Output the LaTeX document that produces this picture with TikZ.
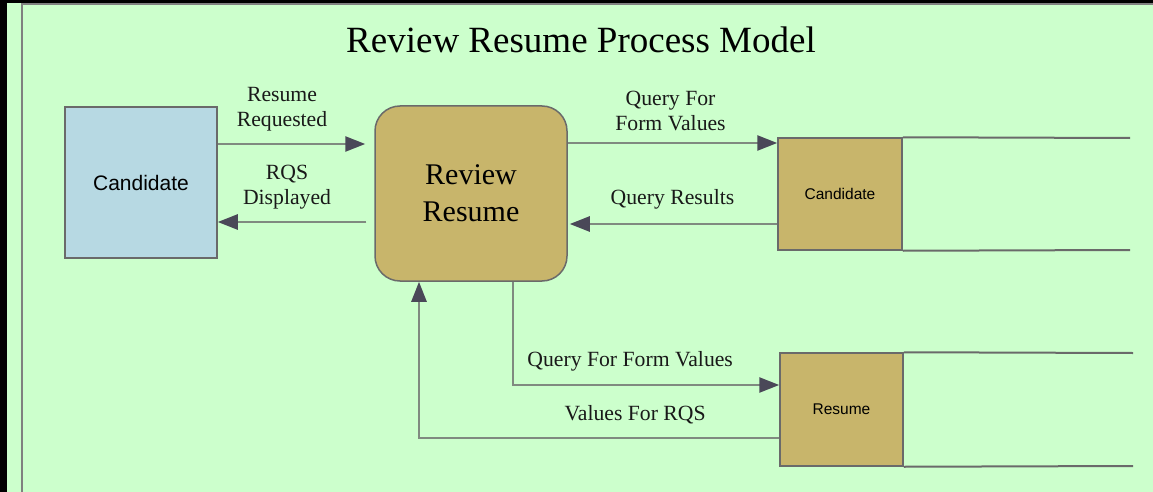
\documentclass[tikz,border=0pt]{standalone}
\usepackage{fontspec}
\setmainfont{Liberation Serif}
\setsansfont{Liberation Sans}
\usetikzlibrary{positioning, arrows.meta}
\definecolor{DFDgreen}{HTML}{CCFFCC}
\definecolor{DFDblue}{HTML}{B7D9E3}
\definecolor{DFDtan}{HTML}{C8B56B}
\definecolor{DFDedge}{HTML}{6A6A6A}
\definecolor{DFDline}{HTML}{808A80}
\definecolor{DFDtip}{HTML}{4A4858}
\tikzset{
  entity/.style={rectangle, draw=DFDedge, line width=1.5pt, fill=DFDblue,
    minimum width=152pt, minimum height=151pt, font=\sffamily\fontsize{21}{25}\selectfont},
  proc/.style={rectangle, rounded corners=25pt, draw=DFDedge, line width=1.5pt, fill=DFDtan,
    minimum width=192pt, minimum height=175pt, align=center, font=\fontsize{30}{37}\selectfont},
  dstore/.style={rectangle, draw=DFDedge, line width=1.5pt, fill=DFDtan,
    minimum width=124pt, minimum height=112pt, font=\sffamily\fontsize{15.5}{18}\selectfont},
  openline/.style={DFDedge, line width=2pt},
  flow/.style={-{Triangle[length=20pt, width=15pt, color=DFDtip]}, line width=2.5pt, DFDline},
  lbl/.style={font=\fontsize{21.7}{25}\selectfont, align=center, inner sep=0pt, text=black!90},
}
\begin{document}
\begin{tikzpicture}[x=1pt, y=-1pt]
  \useasboundingbox (0,0) rectangle (1153,492);
  % frame
  \fill[DFDgreen] (0,0) rectangle (1153,492);
  \fill[black] (0,0) rectangle (1153,3.5);
  \fill[black] (0,0) rectangle (7,492);
  \draw[gray, line width=2pt] (21.5,492) -- (21.5,4.5) -- (1153,4.5);

  \node[font=\fontsize{37}{44}\selectfont] (title) at (581,40) {Review Resume Process Model};

  \node[entity] (cand) at (141,182.5) {Candidate};
  \node[proc] (review) at (471,193.5) {Review\\Resume};
  \node[dstore] (candstore) at (840,194) {Candidate};
  \node[dstore, minimum width=123pt, minimum height=113pt] (resstore) at (841.5,409.5) {Resume};

  % open-ended data stores
  \coordinate (candtop) at (1130,138);
  \coordinate (candbot) at (1130,250);
  \coordinate (restop) at (1133,353);
  \coordinate (resbot) at (1133,466);
  \draw[openline] (candstore.north east) -- (candtop);
  \draw[openline] (candstore.south east) -- (candbot);
  \draw[openline] (resstore.north east) -- (restop);
  \draw[openline] (resstore.south east) -- (resbot);

  % flows
  \draw[flow, shorten >=9pt] (cand.east |- 0,144) -- node[lbl, above=12pt, xshift=-14pt]{Resume\\Requested} (review.west |- 0,144);
  \draw[flow, shorten <=8pt] (review.west |- 0,222) -- node[lbl, above=12pt, xshift=-9pt]{RQS\\Displayed} (cand.east |- 0,222);
  \draw[flow] (review.east |- 0,143) -- node[lbl, above=11pt, xshift=-2pt]{Query For\\Form Values} (candstore.west |- 0,143);
  \draw[flow, shorten >=2pt] (candstore.west |- 0,224) -- node[lbl, above=14pt]{Query Results} (review.east |- 0,224);
  \draw[flow] ([xshift=42pt]review.south) |- node[lbl, above=13pt, pos=0.72]{Query For Form Values} ([yshift=24.5pt]resstore.west);
  \draw[flow] ([yshift=-28.5pt]resstore.west) -| node[lbl, above=13pt, pos=0.2]{Values For RQS} ([xshift=-52pt]review.south);
\end{tikzpicture}
\end{document}
